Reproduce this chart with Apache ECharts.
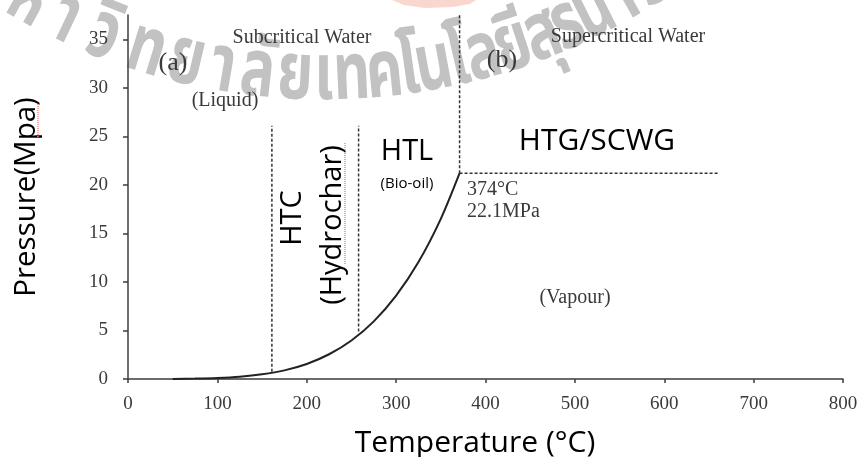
<!DOCTYPE html>
<html><head><meta charset="utf-8">
<script src="https://cdn.jsdelivr.net/npm/echarts@6/dist/echarts.min.js"></script>
<style>html,body{margin:0;padding:0;background:#fff}#c{width:859px;height:457px}</style>
</head><body><div id="c"></div>
<script>
// ---- data ----
const temps = [50, 75, 100, 125, 150, 175, 200, 225, 250, 275, 300, 325, 350, 371];
const pressures = [0.01, 0.04, 0.10, 0.23, 0.48, 0.89, 1.55, 2.55, 3.97, 5.94, 8.59, 12.05, 16.5, 21.2];
const htcLeftLine = [[161, 0.75], [161, 26.1]];
const htcRightLine = [[258, 4.9], [258, 26.1]];
const criticalVertical = [[371, 21.2], [371, 37.5]];
const criticalHorizontal = [[371, 21.2], [660, 21.2]];
const xTicks = [0, 100, 200, 300, 400, 500, 600, 700, 800];
const yTicks = [0, 5, 10, 15, 20, 25, 30, 35];
const watermarkClusters = ['ม','ห','า','วิ','ท','ย','า','ลั','ย','เ','ท','ค','โ','น','โ','ล','ยี','สุ','ร','น','า','รี'];

const SERIF = '"Liberation Serif","Times New Roman",serif';
const SANS = '"Open Sans","Noto Sans",sans-serif';
const THAI = '"Noto Sans Thai","Noto Sans Thai Looped","Loma","Garuda","Noto Sans",sans-serif';
const AXC = '#3c3c3c';
const TXT = '#3a3a3a';

const chart = echarts.init(document.getElementById('c'), null, {renderer: 'canvas'});

// watermark along an arc (decoration): horizontal centre of each glyph cluster
const wmX = [-12, 26, 63, 102, 145, 185, 222, 257, 295, 324, 352, 385, 410, 435, 460, 485, 515, 545, 570, 597, 625, 652];
function buildWatermark() {
  const cx = 324, cy = -527, R = 608;
  return watermarkClusters.map((c, i) => {
    const th = Math.asin((wmX[i] - cx) / R);
    return {
      type: 'text', z: -10, silent: true,
      x: cx + R * Math.sin(th), y: cy + R * Math.cos(th) + 2,
      rotation: th, scaleX: 1.15, scaleY: 1.6,
      style: {text: c, font: 'bold 50px ' + THAI, fill: '#c2c2c2', align: 'center', verticalAlign: 'middle'}
    };
  });
}

function txt(text, x, y, font, extra) {
  const st = Object.assign({text: text, font: font, fill: TXT, align: 'center', verticalAlign: 'middle'}, (extra && extra.style) || {});
  const el = {type: 'text', x: x, y: y, z: 50, style: st};
  if (extra && extra.rotation) el.rotation = extra.rotation;
  return el;
}

const dashStyle = {color: '#333', width: 1.5, type: [3, 2]};
function dashed(name, data) {
  return {name: name, type: 'line', data: data, showSymbol: false, silent: true, lineStyle: dashStyle, z: 3};
}

const option = {
  animation: false,
  backgroundColor: '#fff',
  grid: {left: 128, right: 16, top: 15, bottom: 78, outerBoundsMode: 'none', containLabel: false},
  xAxis: {
    type: 'value', min: 0, max: 800, interval: 100,
    name: 'Temperature (°C)', nameLocation: 'middle', nameGap: 49,
    nameTextStyle: {fontFamily: SANS, fontSize: 30, color: '#000', padding: [0, 21, 0, 0]},
    axisLine: {show: true, lineStyle: {color: AXC, width: 1.5}},
    axisTick: {show: true, length: 4, customValues: xTicks, lineStyle: {color: AXC, width: 1.5}},
    axisLabel: {customValues: xTicks, fontFamily: SERIF, fontSize: 19, color: TXT, margin: 16},
    splitLine: {show: false}
  },
  yAxis: {
    type: 'value', min: 0, max: 37.5, interval: 5,
    name: 'Pressure(Mpa)', nameLocation: 'middle', nameGap: 86, nameRotate: 90,
    nameTextStyle: {fontFamily: SANS, fontSize: 29.5, color: '#000'},
    axisLine: {show: true, onZero: false, lineStyle: {color: AXC, width: 1.5}},
    axisTick: {show: true, length: 5, customValues: yTicks, lineStyle: {color: AXC, width: 1.5}},
    axisLabel: {customValues: yTicks, fontFamily: SERIF, fontSize: 19, color: TXT, margin: 20},
    splitLine: {show: false}
  },
  series: [
    {name: 'Saturation curve', type: 'line', data: temps.map((t, i) => [t, pressures[i]]),
     showSymbol: false, smooth: 0.3, silent: true, lineStyle: {color: '#222', width: 2}, z: 4},
    dashed('HTC left', htcLeftLine),
    dashed('HTC right', htcRightLine),
    dashed('Critical T', criticalVertical),
    dashed('Critical P', criticalHorizontal)
  ],
  graphic: buildWatermark().concat([
    {type: 'polygon', z: -9, silent: true,
     shape: {points: [[392, 0], [476, 0], [470, 4], [452, 7], [425, 8], [404, 5]]},
     style: {fill: 'rgba(232,110,80,0.28)'}},
    txt('Subcritical Water', 302, 38, '20px ' + SERIF),
    txt('Supercritical Water', 628, 37, '20px ' + SERIF),
    txt('(a)', 173, 63, '26px ' + SERIF),
    txt('(b)', 502, 60, '26px ' + SERIF),
    txt('(Liquid)', 225, 101, '20px ' + SERIF),
    txt('374°C', 467, 190, '20px ' + SERIF, {style: {align: 'left'}}),
    txt('22.1MPa', 467, 212, '20px ' + SERIF, {style: {align: 'left'}}),
    txt('(Vapour)', 575, 298, '20px ' + SERIF),
    txt('HTL', 407, 152, '29px ' + SANS, {style: {fill: '#000'}}),
    txt('(Bio-oil)', 407, 184, '15px ' + SANS, {style: {fill: '#000'}}),
    txt('HTG/SCWG', 597, 141, '30px ' + SANS, {style: {fill: '#000'}}),
    txt('HTC', 293, 218, '29px ' + SANS, {rotation: Math.PI / 2, style: {fill: '#000'}}),
    txt('(Hydrochar)', 333, 225, '29px ' + SANS, {rotation: Math.PI / 2, style: {fill: '#000'}}),
    {type: 'line', z: 49, silent: true, shape: {x1: 38, y1: 104, x2: 38, y2: 138}, style: {stroke: '#f08a8a', lineWidth: 1.5, lineDash: [1, 1]}},
    {type: 'line', z: 49, silent: true, shape: {x1: 345, y1: 143, x2: 345, y2: 265}, style: {stroke: '#f08a8a', lineWidth: 1.5, lineDash: [1, 1]}}
  ])
};
chart.setOption(option);
</script>
</body></html>
